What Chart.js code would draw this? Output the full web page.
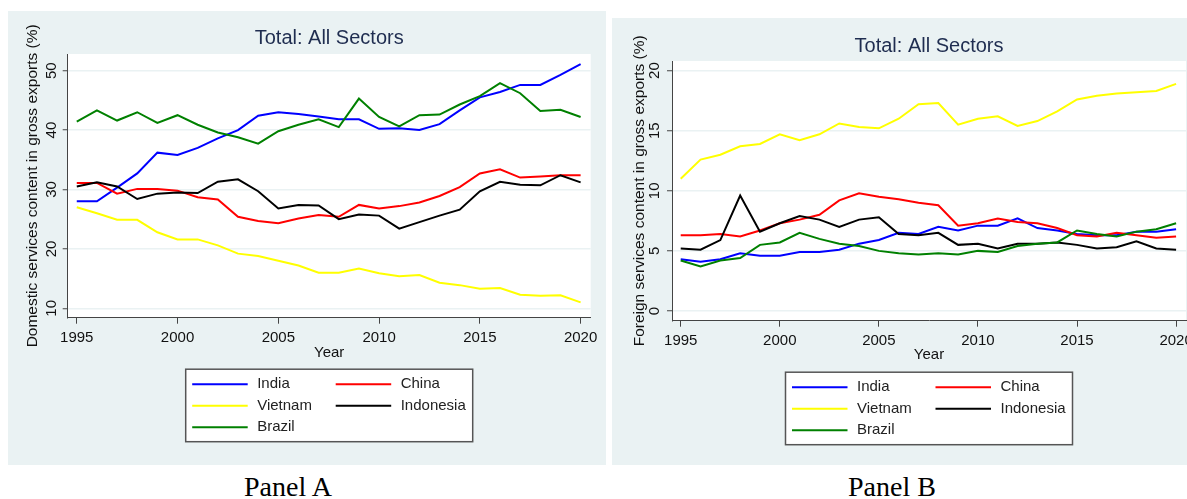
<!DOCTYPE html>
<html>
<head>
<meta charset="utf-8">
<script src="https://cdn.jsdelivr.net/npm/chart.js@4/dist/chart.umd.min.js"></script>
<style>
  html, body { margin: 0; padding: 0; background: #fff; width: 1187px; height: 499px; overflow: hidden; }
  .panel { position: absolute; background: #eaf2f3; overflow: hidden; }
  #pa { left: 8px; top: 11px; width: 598px; height: 454px; }
  #pb { left: 612px; top: 18px; width: 575px; height: 447px; }
  .panel canvas { position: absolute; left: 0; top: 0; }
  .cap { position: absolute; width: 200px; text-align: center; top: 473px; line-height: 28px;
         font-family: "Liberation Serif", "Times New Roman", serif; font-size: 28px; color: #000; }
</style>
</head>
<body>
<div class="panel" id="pa"><canvas id="chartA" width="598" height="454"></canvas></div>
<div class="panel" id="pb"><canvas id="chartB" width="620" height="447"></canvas></div>
<div class="cap" style="left:188px">Panel A</div>
<div class="cap" style="left:792px">Panel B</div>

<script>
const years = [1995, 1996, 1997, 1998, 1999, 2000, 2001, 2002, 2003, 2004, 2005, 2006, 2007,
               2008, 2009, 2010, 2011, 2012, 2013, 2014, 2015, 2016, 2017, 2018, 2019, 2020];
const countries = ['India', 'China', 'Vietnam', 'Indonesia', 'Brazil'];
const xTicks = [1995, 2000, 2005, 2010, 2015, 2020];

// Panel A: domestic services content in gross exports (%)
const domIndia     = [28.0, 28.0, 30.3, 32.7, 36.2, 35.8, 37.0, 38.6, 40.0, 42.4, 43.0, 42.7, 42.3,
                      41.8, 41.8, 40.2, 40.3, 40.0, 41.0, 43.3, 45.5, 46.4, 47.6, 47.6, 49.3, 51.1];
const domChina     = [31.1, 31.1, 29.3, 30.1, 30.1, 29.8, 28.7, 28.3, 25.4, 24.7, 24.3, 25.1, 25.7,
                      25.4, 27.4, 26.8, 27.2, 27.8, 28.9, 30.4, 32.7, 33.4, 32.0, 32.2, 32.4, 32.4];
const domVietnam   = [27.0, 26.0, 24.9, 24.9, 22.8, 21.6, 21.6, 20.6, 19.2, 18.8, 18.0, 17.2, 16.0,
                      16.0, 16.7, 15.9, 15.4, 15.6, 14.3, 13.9, 13.3, 13.4, 12.3, 12.1, 12.2, 11.0];
const domIndonesia = [30.5, 31.2, 30.5, 28.4, 29.3, 29.5, 29.4, 31.3, 31.7, 29.7, 26.8, 27.4, 27.3,
                      25.0, 25.8, 25.6, 23.4, 24.5, 25.6, 26.6, 29.7, 31.3, 30.8, 30.7, 32.4, 31.2];
const domBrazil    = [41.4, 43.3, 41.6, 43.0, 41.2, 42.5, 40.9, 39.6, 38.8, 37.7, 39.8, 40.9, 41.8,
                      40.5, 45.3, 42.2, 40.6, 42.5, 42.6, 44.3, 45.7, 47.9, 46.2, 43.2, 43.4, 42.2];
const yTicksA = [10, 20, 30, 40, 50];

// Panel B: foreign services content in gross exports (%)
const forIndia     = [4.3, 4.1, 4.3, 4.8, 4.6, 4.6, 4.9, 4.9, 5.1, 5.6, 5.9, 6.5, 6.4,
                      7.0, 6.7, 7.1, 7.1, 7.7, 6.9, 6.7, 6.4, 6.3, 6.3, 6.6, 6.6, 6.8];
const forChina     = [6.3, 6.3, 6.4, 6.2, 6.7, 7.3, 7.6, 8.0, 9.2, 9.8, 9.5, 9.3, 9.0,
                      8.8, 7.1, 7.3, 7.7, 7.4, 7.3, 6.9, 6.3, 6.2, 6.5, 6.3, 6.1, 6.2];
const forVietnam   = [11.0, 12.6, 13.0, 13.7, 13.9, 14.7, 14.2, 14.7, 15.6, 15.3, 15.2, 16.0, 17.2,
                      17.3, 15.5, 16.0, 16.2, 15.4, 15.8, 16.6, 17.6, 17.9, 18.1, 18.2, 18.3, 18.9];
const forIndonesia = [5.2, 5.1, 5.9, 9.6, 6.6, 7.3, 7.9, 7.6, 7.0, 7.6, 7.8, 6.4, 6.3,
                      6.5, 5.5, 5.6, 5.2, 5.6, 5.6, 5.7, 5.5, 5.2, 5.3, 5.8, 5.2, 5.1];
const forBrazil    = [4.2, 3.7, 4.2, 4.4, 5.5, 5.7, 6.5, 6.0, 5.6, 5.4, 5.0, 4.8, 4.7,
                      4.8, 4.7, 5.0, 4.9, 5.4, 5.6, 5.7, 6.7, 6.4, 6.2, 6.6, 6.8, 7.3];
const yTicksB = [0, 5, 10, 15, 20];

const colors = ['#0000ff', '#ff0000', '#ffff00', '#000000', '#008000'];

Chart.defaults.font.family = '"Liberation Sans", Arial, sans-serif';
Chart.defaults.color = '#111';

const FONT = { size: 15 };
const AXIS = '#444';

// white plot region on the grey graph region
const plotBg = {
  id: 'plotBg',
  beforeDraw(chart) {
    const { ctx, chartArea: a } = chart;
    ctx.save();
    ctx.fillStyle = '#fff';
    ctx.fillRect(a.left, a.top, a.width, a.height);
    ctx.restore();
  }
};

// boxed two-column legend under the x axis title
const boxLegend = {
  id: 'boxLegend',
  afterDraw(chart) {
    const { ctx, chartArea } = chart;
    const cx = (chartArea.left + chartArea.right) / 2;
    const bx = cx - 143.5, by = chartArea.bottom + 51.5, bw = 287, bh = 72.5;
    ctx.save();
    ctx.fillStyle = '#fff';
    ctx.fillRect(bx, by, bw, bh);
    ctx.strokeStyle = '#555';
    ctx.lineWidth = 1.5;
    ctx.strokeRect(bx, by, bw, bh);
    ctx.font = '15px "Liberation Sans", Arial, sans-serif';
    ctx.textBaseline = 'middle';
    chart.data.datasets.forEach((ds, i) => {
      const col = i % 2, row = Math.floor(i / 2);
      const ly = by + 15 + row * 21.5;
      const lx = bx + (col ? 150 : 6.5);
      ctx.strokeStyle = ds.borderColor;
      ctx.lineWidth = 2;
      ctx.beginPath();
      ctx.moveTo(lx, ly);
      ctx.lineTo(lx + 55.5, ly);
      ctx.stroke();
      ctx.fillStyle = '#222';
      ctx.fillText(ds.label, lx + 65, ly);
    });
    ctx.restore();
  }
};

function makePanel(id, series, cfg) {
  new Chart(document.getElementById(id), {
    type: 'line',
    data: {
      datasets: series.map((arr, i) => ({
        label: countries[i],
        data: years.map((x, j) => ({ x: x, y: arr[j] })),
        borderColor: colors[i],
        backgroundColor: colors[i],
        borderWidth: 2,
        pointRadius: 0,
        tension: 0,
        order: series.length - i
      }))
    },
    options: {
      responsive: false,
      animation: false,
      devicePixelRatio: 1,
      layout: { padding: cfg.padding },
      plugins: {
        legend: { display: false },
        tooltip: { enabled: false },
        title: {
          display: true,
          text: 'Total: All Sectors',
          fullSize: false,
          color: '#1f2d50',
          font: { size: 20, weight: 'normal' },
          padding: cfg.titlePad
        }
      },
      scales: {
        x: {
          type: 'linear',
          min: cfg.xMin,
          max: 2020.5,
          afterBuildTicks: s => { s.ticks = xTicks.map(v => ({ value: v })); },
          afterFit: s => { s.height = cfg.xHeight; },
          ticks: { font: FONT, color: '#111', padding: 4.8, maxRotation: 0, autoSkip: false,
                   callback: v => String(v) },
          grid: { drawOnChartArea: false, tickLength: 6, tickColor: AXIS, tickWidth: 1 },
          border: { color: AXIS, width: 1 },
          title: { display: true, text: 'Year', font: FONT, color: '#111', padding: { top: 0, bottom: 0 } }
        },
        y: {
          type: 'linear',
          min: cfg.yMin,
          max: cfg.yMax,
          afterBuildTicks: s => { s.ticks = cfg.yTicks.map(v => ({ value: v })); },
          afterFit: s => { s.width = cfg.yWidth; },
          ticks: { font: FONT, color: '#111', minRotation: 90, maxRotation: 90,
                   crossAlign: 'center', padding: cfg.yTickPad },
          grid: { color: '#eaf2f3', lineWidth: 1.5, tickLength: 5, tickColor: AXIS, tickWidth: 1 },
          border: { color: AXIS, width: 1 },
          title: { display: true, text: cfg.yTitle, font: { size: 15.5 }, color: '#111',
                   padding: { top: cfg.yTitlePad, bottom: 0 } }
        }
      }
    },
    plugins: [plotBg, boxLegend]
  });
}

makePanel('chartA', [domIndia, domChina, domVietnam, domIndonesia, domBrazil], {
  padding: { left: 0, right: 15.3, top: 0, bottom: 103 },
  titlePad: { top: 15.5, bottom: 3.5 },
  xMin: 1994.55, xHeight: 44.3,
  yMin: 8.42, yMax: 52.8, yTicks: yTicksA, yWidth: 59.7, yTickPad: 2.4, yTitlePad: 15.7,
  yTitle: 'Domestic services content in gross exports (%)'
});

makePanel('chartB', [forIndia, forChina, forVietnam, forIndonesia, forBrazil], {
  padding: { left: 0, right: 46, top: 0, bottom: 101 },
  titlePad: { top: 16.7, bottom: 2.3 },
  xMin: 1994.56, xHeight: 43.3,
  yMin: -0.81, yMax: 20.8, yTicks: yTicksB, yWidth: 60, yTickPad: 3.6, yTitlePad: 18.7,
  yTitle: 'Foreign services content in gross exports (%)'
});
</script>
</body>
</html>
